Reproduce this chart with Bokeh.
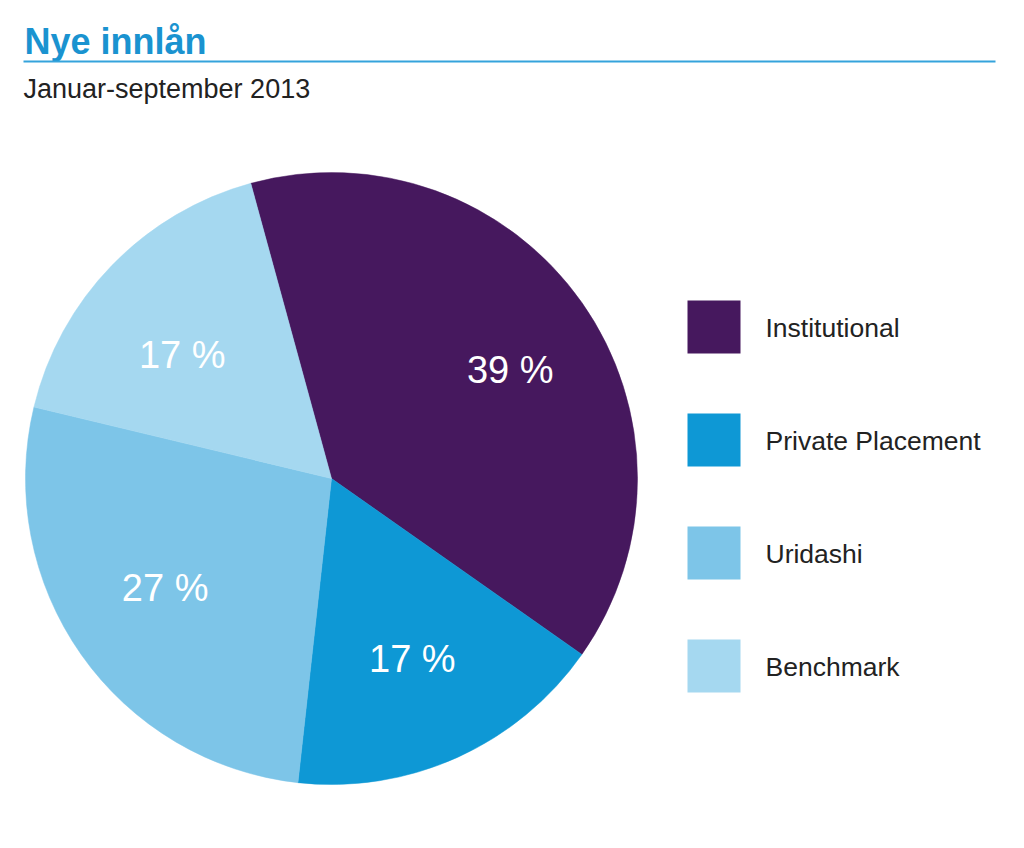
import numpy as np
from bokeh.plotting import figure
from bokeh.models import Range1d, ColumnDataSource
from bokeh.core.properties import value
from bokeh.embed import file_html
from bokeh.resources import INLINE

title = "Nye innlån"
subtitle = "Januar-september 2013"
categories = ["Institutional", "Private Placement", "Uridashi", "Benchmark"]
shares = [39, 17, 27, 17]
labels = ["39 %", "17 %", "27 %", "17 %"]
colors = ["#46185e", "#0e98d5", "#7dc5e8", "#a5d8f0"]

# label placement (layout only): radius in px and angular nudge in degrees
label_radius = [209, 198, 199, 194]
label_nudge = [3.9, 0.2, 1.8, -4.4]

W, H = 1008, 832
FONT = "Liberation Sans"

p = figure(width=W, height=H, output_backend="svg", toolbar_location=None,
           x_range=Range1d(0, W), y_range=Range1d(848 - H, 848),
           min_border=0)
p.axis.visible = False
p.grid.visible = False
p.outline_line_color = None
p.background_fill_color = "white"

def Y(py):
    return 848 - py

# title and rule
p.text(x=[24], y=[Y(41)], text=[title], text_font=value(FONT), text_font_size="36px",
       text_font_style="bold", text_color="#1a93d0", text_baseline="middle")
p.segment(x0=[23], y0=[Y(61)], x1=[995], y1=[Y(61)], line_color="#35a3dc", line_width=2)
p.text(x=[23], y=[Y(88)], text=[subtitle], text_font=value(FONT), text_font_size="27px",
       text_color="#222222", text_baseline="middle")

# pie
cx, cy, R = 331, Y(478), 306
start_deg = -15.3  # clockwise from top
frac = np.array(shares, dtype=float) / sum(shares)
cum = np.concatenate([[0], np.cumsum(frac)]) * 360.0
theta0 = start_deg + cum[:-1]
theta1 = start_deg + cum[1:]
src = ColumnDataSource(dict(
    start=np.radians(90 - theta0), end=np.radians(90 - theta1), color=colors))
p.wedge(x=cx, y=cy, radius=R, start_angle="start", end_angle="end",
        direction="clock", fill_color="color", line_color="color", line_width=0.5,
        source=src)

mid = np.radians(90 - ((theta0 + theta1) / 2 + np.array(label_nudge)))
lr = np.array(label_radius, dtype=float)
p.text(x=cx + lr * np.cos(mid), y=cy + lr * np.sin(mid), text=labels,
       text_font=value(FONT), text_font_size="38px", text_color="white",
       text_align="center", text_baseline="middle")

# legend
for i, (c, name) in enumerate(zip(colors, categories)):
    top = 300 + 113 * i
    p.quad(left=[687], right=[740], top=[Y(top)], bottom=[Y(top + 53)],
           fill_color=c, line_color=None)
    p.text(x=[765], y=[Y(327 + 113 * i)], text=[name], text_font=value(FONT),
           text_font_size="26.5px", text_color="#222222", text_baseline="middle")

open("out.html", "w").write(file_html(p, INLINE))
